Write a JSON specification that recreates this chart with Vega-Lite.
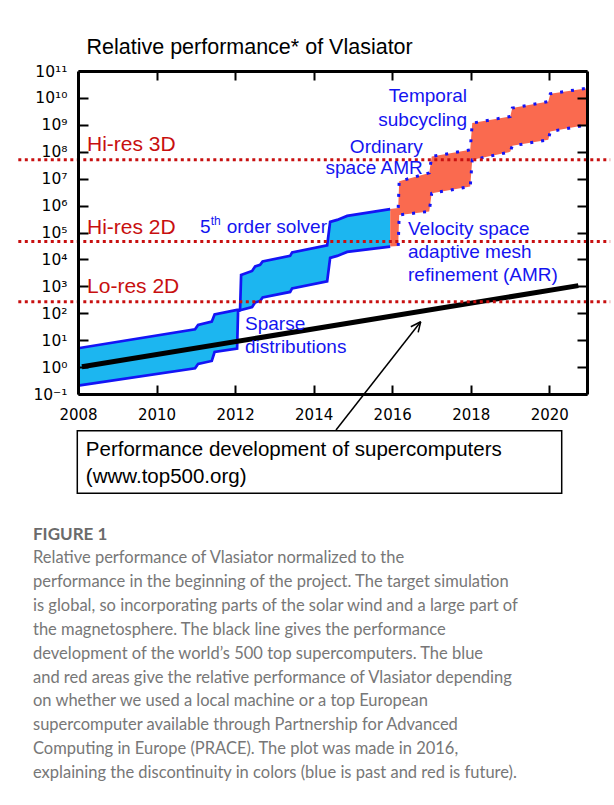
{
  "$schema": "https://vega.github.io/schema/vega-lite/v6.json",
  "width": 509,
  "height": 323,
  "autosize": {"type": "none"},
  "padding": {"left": 78, "top": 71, "right": 27, "bottom": 411},
  "background": "white",
  "title": {
    "text": "FIGURE 1",
    "subtitle": [
      "Relative performance of Vlasiator normalized to the",
      "performance in the beginning of the project. The target simulation",
      "is global, so incorporating parts of the solar wind and a large part of",
      "the magnetosphere. The black line gives the performance",
      "development of the world’s 500 top supercomputers. The blue",
      "and red areas give the relative performance of Vlasiator depending",
      "on whether we used a local machine or a top European",
      "supercomputer available through Partnership for Advanced",
      "Computing in Europe (PRACE). The plot was made in 2016,",
      "explaining the discontinuity in colors (blue is past and red is future)."
    ],
    "orient": "bottom",
    "anchor": "start",
    "frame": "group",
    "dx": -45,
    "offset": 33,
    "font": "Lato",
    "fontSize": 17,
    "fontWeight": "bold",
    "color": "#6b6b6b",
    "subtitleFont": "Lato",
    "subtitleFontSize": 16.5,
    "subtitleColor": "#777777",
    "subtitleLineHeight": 23.9,
    "subtitlePadding": 6
  },
  "datasets": {
    "blue": [
      {"year": 2008.0, "upper": 5.0, "lower": 0.204},
      {"year": 2010.981, "upper": 25.4, "lower": 0.9},
      {"year": 2011.057, "upper": 36.7, "lower": 1.3},
      {"year": 2011.406, "upper": 48.8, "lower": 1.69},
      {"year": 2011.478, "upper": 90.2, "lower": 3.64},
      {"year": 2012.051, "upper": 133, "lower": 4.91},
      {"year": 2012.076, "upper": 133, "lower": 122},
      {"year": 2012.127, "upper": 138, "lower": 127},
      {"year": 2012.153, "upper": 2655, "lower": 133},
      {"year": 2012.433, "upper": 3733, "lower": 171},
      {"year": 2012.51, "upper": 5495, "lower": 252},
      {"year": 2012.637, "upper": 6250, "lower": 287},
      {"year": 2012.701, "upper": 8433, "lower": 386},
      {"year": 2013.401, "upper": 13490, "lower": 619},
      {"year": 2013.452, "upper": 18200, "lower": 836},
      {"year": 2014.344, "upper": 33100, "lower": 1521},
      {"year": 2014.42, "upper": 247700, "lower": 11380},
      {"year": 2014.599, "upper": 294000, "lower": 13490},
      {"year": 2014.854, "upper": 414000, "lower": 19000},
      {"year": 2015.949, "upper": 740000, "lower": 30000}
    ],
    "red": [
      {"year": 2015.949, "upper": 740000, "lower": 30000},
      {"year": 2016.153, "upper": 820000, "lower": 31800},
      {"year": 2016.178, "upper": 7940000, "lower": 451000},
      {"year": 2016.943, "upper": 16400000, "lower": 608000},
      {"year": 2017.006, "upper": 66400000, "lower": 2890000},
      {"year": 2017.987, "upper": 118000000, "lower": 5080000},
      {"year": 2018.038, "upper": 1160000000, "lower": 50000000},
      {"year": 2019.006, "upper": 2040000000, "lower": 99000000},
      {"year": 2019.057, "upper": 4180000000, "lower": 166000000},
      {"year": 2019.975, "upper": 7350000000, "lower": 277000000},
      {"year": 2020.025, "upper": 14200000000, "lower": 564000000},
      {"year": 2020.96, "upper": 23100000000, "lower": 1000000000}
    ],
    "top500": [
      {"year": 2008.1, "value": 1.03},
      {"year": 2020.74, "value": 1062}
    ],
    "levels": [
      {"level": "Hi-res 3D", "value": 50000000, "start": 2006.48, "end": 2021.55},
      {"level": "Hi-res 2D", "value": 45900, "start": 2006.48, "end": 2021.55},
      {"level": "Lo-res 2D", "value": 270, "start": 2006.48, "end": 2021.55}
    ],
    "redLabels": [
      {"label": "Hi-res 3D", "year": 2008.23, "value": 173000000},
      {"label": "Hi-res 2D", "year": 2008.23, "value": 150000},
      {"label": "Lo-res 2D", "year": 2008.23, "value": 927}
    ],
    "blueLeft": [
      {"label": "Velocity space", "year": 2016.402, "value": 138000},
      {"label": "adaptive mesh", "year": 2016.402, "value": 19500},
      {"label": "refinement (AMR)", "year": 2016.402, "value": 2655},
      {"label": "Sparse", "year": 2012.252, "value": 39.4},
      {"label": "distributions", "year": 2012.252, "value": 5.58},
      {"label": "5", "year": 2011.106, "value": 161000},
      {"label": "order solver", "year": 2011.786, "value": 161000}
    ],
    "blueRight": [
      {"label": "Temporal", "year": 2017.905, "value": 11300000000},
      {"label": "subcycling", "year": 2017.905, "value": 1530000000},
      {"label": "Ordinary", "year": 2016.777, "value": 156000000},
      {"label": "space AMR", "year": 2016.777, "value": 24500000}
    ],
    "blueSup": [
      {"label": "th", "year": 2011.379, "value": 259000}
    ],
    "heading": [
      {"label": "Relative performance* of Vlasiator", "year": 2008.216, "value": 700000000000}
    ],
    "box": [
      {"year": 2007.982, "year2": 2020.316, "value": 0.00434, "value2": 0.0000205}
    ],
    "boxText": [
      {"label": "Performance development of supercomputers", "year": 2008.2, "value": 0.000828},
      {"label": "(www.top500.org)", "year": 2008.2, "value": 0.0000843}
    ],
    "arrow": [
      {"part": "shaft", "year": 2014.569, "value": 0.0046, "year2": 2016.726, "value2": 48.5},
      {"part": "head1", "year": 2016.474, "value": 31.6, "year2": 2016.726, "value2": 48.5},
      {"part": "head2", "year": 2016.661, "value": 19.4, "year2": 2016.726, "value2": 48.5}
    ]
  },
  "layer": [
    {
      "data": {"name": "blue"},
      "mark": {"type": "area", "fill": "#1cb6f0", "opacity": 1},
      "encoding": {
        "x": {
          "field": "year", "type": "quantitative",
          "scale": {"domain": [2008, 2020.96], "nice": false, "zero": false},
          "axis": {
            "orient": "bottom", "title": null, "grid": false,
            "values": [2008, 2010, 2012, 2014, 2016, 2018, 2020], "format": "d",
            "labelFont": "DejaVu Sans", "labelFontSize": 15, "labelColor": "#000",
            "labelPadding": 22, "labelFlush": false, "labelOverlap": false,
            "tickSize": -9, "tickWidth": 2, "tickColor": "#000",
            "domain": true, "domainWidth": 3, "domainColor": "#000", "zindex": 1
          }
        },
        "y": {
          "field": "upper", "type": "quantitative",
          "scale": {"type": "log", "domain": [0.1, 100000000000], "nice": false},
          "axis": {
            "orient": "left", "title": null, "grid": false,
            "values": [0.1, 1, 10, 100, 1000, 10000, 100000, 1000000, 10000000, 100000000, 1000000000, 10000000000, 100000000000],
            "labelExpr": "'10' + ['⁻¹','⁰','¹','²','³','⁴','⁵','⁶','⁷','⁸','⁹','¹⁰','¹¹'][round(log(datum.value)/LN10) + 1]",
            "labelFont": "DejaVu Sans", "labelFontSize": 15.5, "labelColor": "#000",
            "labelPadding": 21, "labelFlush": false, "labelOverlap": false,
            "tickSize": -10, "tickWidth": 2, "tickColor": "#000",
            "domain": true, "domainWidth": 3, "domainColor": "#000", "zindex": 1
          }
        },
        "y2": {"field": "lower"}
      }
    },
    {
      "data": {"name": "red"},
      "mark": {"type": "area", "fill": "#fa6a4f", "opacity": 1},
      "encoding": {
        "x": {"field": "year", "type": "quantitative", "axis": null},
        "y": {"field": "upper", "type": "quantitative", "axis": null},
        "y2": {"field": "lower"}
      }
    },
    {
      "data": {"name": "blue"},
      "transform": [{"fold": ["upper", "lower"], "as": ["edge", "perf"]}],
      "mark": {"type": "line", "color": "#1414f5", "strokeWidth": 2.7},
      "encoding": {
        "x": {"field": "year", "type": "quantitative", "axis": null},
        "y": {"field": "perf", "type": "quantitative", "axis": null},
        "detail": {"field": "edge"}
      }
    },
    {
      "data": {"name": "red"},
      "transform": [
        {"filter": "datum.year > 2016"},
        {"fold": ["upper", "lower"], "as": ["edge", "perf"]}
      ],
      "mark": {"type": "line", "color": "#1414f5", "strokeWidth": 3, "strokeDash": [3, 8]},
      "encoding": {
        "x": {"field": "year", "type": "quantitative", "axis": null},
        "y": {"field": "perf", "type": "quantitative", "axis": null},
        "detail": {"field": "edge"}
      }
    },
    {
      "data": {"name": "top500"},
      "mark": {"type": "line", "color": "#000", "strokeWidth": 5},
      "encoding": {
        "x": {
          "field": "year", "type": "quantitative",
          "scale": {"domain": [2008, 2020.96], "nice": false, "zero": false},
          "axis": {
            "orient": "top", "title": null, "grid": false, "labels": false,
            "values": [2010, 2012, 2014, 2016, 2018, 2020],
            "tickSize": -9, "tickWidth": 2, "tickColor": "#000",
            "domain": true, "domainWidth": 3, "domainColor": "#000", "zindex": 1
          }
        },
        "y": {
          "field": "value", "type": "quantitative",
          "scale": {"type": "log", "domain": [0.1, 100000000000], "nice": false},
          "axis": {
            "orient": "right", "title": null, "grid": false, "labels": false,
            "values": [0.1, 1, 10, 100, 1000, 10000, 100000, 1000000, 10000000, 100000000, 1000000000, 10000000000, 100000000000],
            "tickSize": -10, "tickWidth": 2, "tickColor": "#000",
            "domain": true, "domainWidth": 3, "domainColor": "#000", "zindex": 1
          }
        }
      }
    },
    {
      "data": {"name": "levels"},
      "mark": {"type": "rule", "color": "#c81010", "strokeWidth": 3, "strokeDash": [3, 3.5]},
      "encoding": {
        "x": {"field": "start", "type": "quantitative", "axis": null},
        "x2": {"field": "end"},
        "y": {"field": "value", "type": "quantitative", "axis": null}
      }
    },
    {
      "data": {"name": "redLabels"},
      "mark": {"type": "text", "align": "left", "baseline": "middle", "font": "Liberation Sans", "fontSize": 21, "color": "#c80f0f"},
      "encoding": {
        "x": {"field": "year", "type": "quantitative", "axis": null},
        "y": {"field": "value", "type": "quantitative", "axis": null},
        "text": {"field": "label"}
      }
    },
    {
      "data": {"name": "blueLeft"},
      "mark": {"type": "text", "align": "left", "baseline": "middle", "font": "Liberation Sans", "fontSize": 19, "color": "#1414f0"},
      "encoding": {
        "x": {"field": "year", "type": "quantitative", "axis": null},
        "y": {"field": "value", "type": "quantitative", "axis": null},
        "text": {"field": "label"}
      }
    },
    {
      "data": {"name": "blueRight"},
      "mark": {"type": "text", "align": "right", "baseline": "middle", "font": "Liberation Sans", "fontSize": 19, "color": "#1414f0"},
      "encoding": {
        "x": {"field": "year", "type": "quantitative", "axis": null},
        "y": {"field": "value", "type": "quantitative", "axis": null},
        "text": {"field": "label"}
      }
    },
    {
      "data": {"name": "blueSup"},
      "mark": {"type": "text", "align": "left", "baseline": "middle", "font": "Liberation Sans", "fontSize": 12, "color": "#1414f0"},
      "encoding": {
        "x": {"field": "year", "type": "quantitative", "axis": null},
        "y": {"field": "value", "type": "quantitative", "axis": null},
        "text": {"field": "label"}
      }
    },
    {
      "data": {"name": "heading"},
      "mark": {"type": "text", "align": "left", "baseline": "middle", "font": "Liberation Sans", "fontSize": 21.5, "color": "#000"},
      "encoding": {
        "x": {"field": "year", "type": "quantitative", "axis": null},
        "y": {"field": "value", "type": "quantitative", "axis": null},
        "text": {"field": "label"}
      }
    },
    {
      "data": {"name": "arrow"},
      "mark": {"type": "rule", "color": "#000", "strokeWidth": 1.5},
      "encoding": {
        "x": {"field": "year", "type": "quantitative", "axis": null},
        "x2": {"field": "year2"},
        "y": {"field": "value", "type": "quantitative", "axis": null},
        "y2": {"field": "value2"}
      }
    },
    {
      "data": {"name": "box"},
      "mark": {"type": "rect", "fill": "#fff", "stroke": "#000", "strokeWidth": 1.5},
      "encoding": {
        "x": {"field": "year", "type": "quantitative", "axis": null},
        "x2": {"field": "year2"},
        "y": {"field": "value", "type": "quantitative", "axis": null},
        "y2": {"field": "value2"}
      }
    },
    {
      "data": {"name": "boxText"},
      "mark": {"type": "text", "align": "left", "baseline": "middle", "font": "Liberation Sans", "fontSize": 20.5, "color": "#000"},
      "encoding": {
        "x": {"field": "year", "type": "quantitative", "axis": null},
        "y": {"field": "value", "type": "quantitative", "axis": null},
        "text": {"field": "label"}
      }
    }
  ],
  "resolve": {"axis": {"x": "independent", "y": "independent"}},
  "config": {"view": {"stroke": null}}
}
